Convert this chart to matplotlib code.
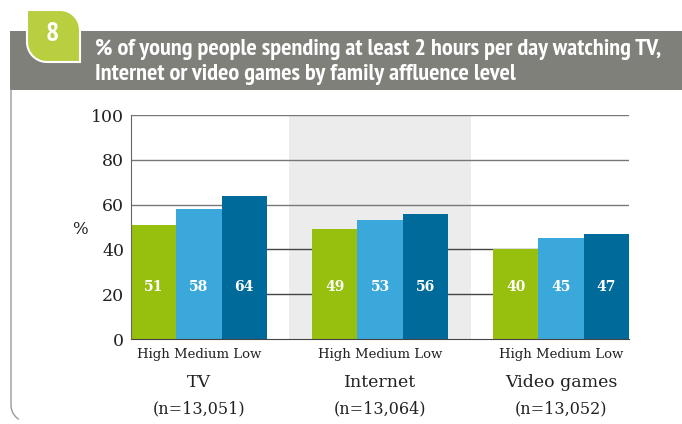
import matplotlib
matplotlib.use("Agg")
import matplotlib.pyplot as plt
import numpy as np
from matplotlib.patches import Rectangle, PathPatch
from matplotlib.path import Path

media = ["TV", "Internet", "Video games"]
sample_sizes = ["(n=13,051)", "(n=13,064)", "(n=13,052)"]
affluence = ["High", "Medium", "Low"]
high = [51, 49, 40]
medium = [58, 53, 45]
low = [64, 56, 47]
yticks = [0, 20, 40, 60, 80, 100]

title = ("% of young people spending at least 2 hours per day watching TV,\n"
         "Internet or video games by family affluence level")

GREEN = "#97bf0d"
LIGHT_BLUE = "#3aa8db"
DARK_BLUE = "#006a9a"
BAND = "#ebeceb"
HEADER = "#7f807a"
TAB = "#b9cf3f"
HEAD_FONT = ["PT Sans Narrow", "DejaVu Sans"]
SERIF = "DejaVu Serif"

W, H = 682, 424
fig = plt.figure(figsize=(W / 100, H / 100), dpi=100)


def px(x, y):
  return (x / W, 1 - y / H)


def arc(cx, cy, r, a0, a1, n=20):
  t = np.radians(np.linspace(a0, a1, n))
  return [px(cx + r * np.cos(a), cy - r * np.sin(a)) for a in t]


# header band
x0, y0 = px(10, 90)
fig.patches.append(Rectangle((x0, y0), 1 - x0, 59 / H, transform=fig.transFigure,
                             facecolor=HEADER, edgecolor="none", zorder=0))

# green tab with two rounded corners
pts = [px(27, 10), px(60, 10)] + arc(60, 30, 20, 90, 0) + [px(80, 62), px(47, 62)] \
  + arc(47, 42, 20, 270, 180) + [px(27, 10)]
fig.patches.append(PathPatch(Path(pts), transform=fig.transFigure, facecolor=TAB,
                             edgecolor="white", linewidth=1.5, zorder=1))
fig.text(52 / W, 1 - 34 / H, "8", color="white", fontsize=20, fontweight="bold",
         ha="center", va="center", family=HEAD_FONT)

fig.text(95 / W, 1 - 62 / H, title, color="white", fontsize=17.5, fontweight="bold",
         ha="left", va="center", linespacing=1.3, family=HEAD_FONT)

# left frame line with rounded bottom corner
frame = [px(11, 90), px(11, 405)] + arc(28, 405, 17, 180, 235)
fig.lines.append(plt.Line2D([p[0] for p in frame], [p[1] for p in frame],
                            transform=fig.transFigure, color="#9a9a9a", linewidth=1))

ax = fig.add_axes([131 / W, 1 - 339 / H, 498 / W, 224 / H])

group_centers = np.arange(len(media)) * 4
width = 1.0
ax.axvspan(group_centers[1] - 2, group_centers[1] + 2, color=BAND, zorder=0, lw=0)
for v in yticks[1:]:
  ax.axhline(v, color="#444444" if v < 60 else "#777777", linewidth=1, zorder=1)

series = [high, medium, low]
colors = [GREEN, LIGHT_BLUE, DARK_BLUE]
for i, (vals, c) in enumerate(zip(series, colors)):
  xs = group_centers + (i - 1) * width
  ax.bar(xs, vals, width=width, color=c, zorder=2, linewidth=0)
  for x, v in zip(xs, vals):
    ax.text(x, 23, str(v), color="white", fontsize=10, fontweight="bold",
            ha="center", va="center", family=SERIF, zorder=3)

ax.set_xlim(-1.5, 9.5)
ax.set_ylim(0, 100)
ax.set_yticks(yticks)
ax.set_yticklabels([str(t) for t in yticks], family=SERIF, fontsize=12.5,
                   color="#222222")
ax.tick_params(axis="y", length=0, pad=5)
ax.set_xticks([])
for s in ["top", "right"]:
  ax.spines[s].set_visible(False)
ax.spines["left"].set_color("#666666")
ax.spines["bottom"].set_color("#444444")
ax.spines["left"].set_zorder(4)

for gc, name, n in zip(group_centers, media, sample_sizes):
  ax.text(gc, -7, " ".join(affluence), family=SERIF, fontsize=9.5,
          ha="center", va="center", color="#222222")
  ax.text(gc, -19.5, name, family=SERIF, fontsize=12.5,
          ha="center", va="center", color="#222222")
  ax.text(gc, -31, n, family=SERIF, fontsize=11.5,
          ha="center", va="center", color="#222222")

fig.text(80 / W, 1 - 229 / H, "%", family=SERIF, fontsize=12,
         ha="center", va="center", color="#222222")

fig.savefig("out.png", dpi=100)
